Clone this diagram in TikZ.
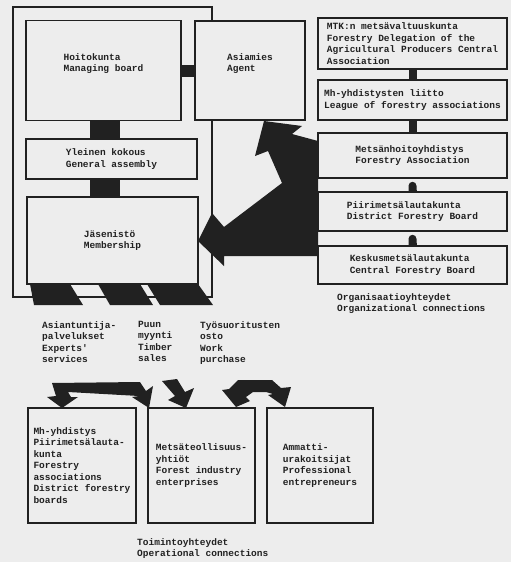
\documentclass[tikz,border=0pt]{standalone}
\usepackage{fontspec}
\setmonofont{Liberation Mono}
\usetikzlibrary{arrows.meta}
\definecolor{paper}{gray}{0.93}
\definecolor{ink}{gray}{0.13}
\tikzset{
	txt/.style={font=\ttfamily\bfseries\fontsize{9.5}{11.5}\selectfont, text=ink},
	box/.style={txt, draw=ink, line width=1.6pt, fill=paper, align=left, inner sep=0pt},
	lbl/.style={txt, anchor=north west, align=left, inner sep=0pt},
	conn/.style={draw=ink, line width=8pt},
	blob/.style={fill=ink},
}
\begin{document}
\begin{tikzpicture}[x=1pt, y=-1pt]
	\fill[paper] (0,0) rectangle (511,562);
	\useasboundingbox (0,0) rectangle (511,562);
	\draw[ink, line width=1.3pt] (13,7) rectangle (212,297);
	% left column
	\node[box, minimum width=155, minimum height=100, text depth=16pt] (hoito) at (103.5,70.5) {Hoitokunta\\Managing board};
	\node[box, minimum width=110, minimum height=99, text depth=16pt] (asiamies) at (250,70.5) {Asiamies\\Agent};
	\node[box, minimum width=171, minimum height=40] (yleinen) at (111.5,159) {Yleinen kokous\\General assembly};
	\node[box, minimum width=171, minimum height=87] (jasen) at (112.5,240.5) {J\"asenist\"o\\Membership};
	\draw[conn, line width=12pt] (hoito.east) -- (asiamies.west);
	\draw[conn, line width=30pt] (105,0 |- hoito.south) -- (105,0 |- yleinen.north);
	\draw[conn, line width=30pt] (105,0 |- yleinen.south) -- (105,0 |- jasen.north);
	% right column
	\node[box, minimum width=189, minimum height=51] (mtk) at (412.5,43.5) {MTK:n mets\"avaltuuskunta\\Forestry Delegation of the\\Agricultural Producers Central\\Association};
	\node[box, minimum width=189, minimum height=40] (liitto) at (412.5,100) {Mh-yhdistysten liitto\\League of forestry associations};
	\node[box, minimum width=189, minimum height=45] (metsan) at (412.5,155.5) {Mets\"anhoitoyhdistys\\Forestry Association};
	\node[box, minimum width=189, minimum height=39] (piiri) at (412.5,211.5) {Piirimets\"alautakunta\\District Forestry Board};
	\node[box, minimum width=189, minimum height=38] (kesk) at (412.5,265) {Keskusmets\"alautakunta\\Central Forestry Board};
	\draw[conn] (mtk.south) -- (liitto.north);
	\draw[conn] (liitto.south) -- (metsan.north);
	\draw[conn, {Round Cap}-] ([yshift=-3pt]metsan.south) -- (piiri.north);
	\draw[conn, {Round Cap}-] ([yshift=-3pt]piiri.south) -- (kesk.north);
	\node[lbl] (orglbl) at (337,293) {Organisaatioyhteydet\\Organizational connections};
	% big arrow to membership and agent
	\fill[blob] (198,241) -- (212,213) -- (224,227) -- (282,183) -- (268,151) -- (255,156) -- (264,121)
		-- (302,126) -- (292,134) -- (318,141) -- (318,256) -- (224,256) -- (224,266) -- cycle;
	% membership outputs
	\foreach \a/\b/\c/\d in {30/70/83/34, 98/140/153/110, 147/198/213/160}
		\fill[blob] (\a,284) -- (\b,284) -- (\c,305) -- (\d,305) -- cycle;
	\node[lbl] (expert) at (42,321) {Asiantuntija-\\palvelukset\\Experts'\\services};
	\node[lbl] (timber) at (138,321) {Puun\\myynti\\Timber\\sales};
	\node[lbl] (work) at (200,321) {Ty\"osuoritusten\\osto\\Work\\purchase};
	% bottom row
	\node[box, minimum width=108, minimum height=115] (mhy) at (82,465.5) {Mh-yhdistys\\Piirimets\"alauta-\\kunta\\Forestry\\associations\\District forestry\\boards};
	\node[box, minimum width=107, minimum height=115] (industry) at (201.5,465.5) {Mets\"ateollisuus-\\yhti\"ot\\Forest industry\\enterprises};
	\node[box, minimum width=106, minimum height=115] (pro) at (320,465.5) {Ammatti-\\urakoitsijat\\Professional\\entrepreneurs};
	\fill[blob] (62,408) -- (47,397) -- (56,396) -- (52,383) -- (140,382) -- (146,391) -- (153,386)
		-- (149,408) -- (132,397) -- (139,396) -- (68,392) -- (71,397) -- (78,397) -- cycle;
	\fill[blob] (162,381) -- (177,379) -- (185,392) -- (194,388) -- (186,408) -- (168,400) -- (175,396) -- cycle;
	\fill[blob] (236,407) -- (222,390) -- (229,389) -- (238,380) -- (272,380) -- (281,388) -- (291,387)
		-- (285,407) -- (268,395) -- (273,394) -- (266,392) -- (253,392) -- (246,397) -- (250,401) -- cycle;
	\node[lbl] (operlbl) at (137,538) {Toimintoyhteydet\\Operational connections};
\end{tikzpicture}
\end{document}
